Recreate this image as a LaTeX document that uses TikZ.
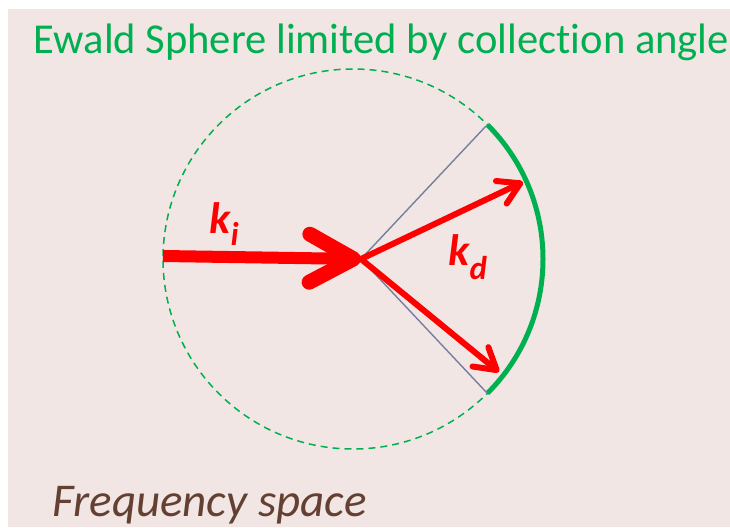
\documentclass[tikz,border=0pt]{standalone}
\usepackage{fontspec}
\setmainfont{Carlito}[Ligatures=NoCommon]
\usepackage{xcolor}
\usepackage{tikz}
\usetikzlibrary{arrows.meta}

\definecolor{bgpink}{RGB}{241,230,228}
\definecolor{ewgreen}{RGB}{0,176,80}
\definecolor{wavered}{RGB}{255,0,0}
\definecolor{conegray}{RGB}{120,126,160}
\definecolor{capbrown}{RGB}{99,64,50}

\tikzset{
  kvec/.style={draw=wavered,line width=6pt,-{Straight Barb[length=21pt,width=25pt,round]}},
  klabel/.style={text=wavered,inner sep=0pt,anchor=base west,font=\fontsize{44}{44}\selectfont\bfseries\itshape},
  caption/.style={inner sep=0pt,anchor=base west}
}
\newcommand{\ksub}[2]{\raisebox{-#2pt}{\fontsize{33}{33}\selectfont #1}}

\begin{document}
\begin{tikzpicture}[x=1pt,y=-1pt,line width=1pt]
    \useasboundingbox (0,0) rectangle (730,527);
    \fill[bgpink] (8,9) rectangle (730,527);
    % sphere and cone
    \coordinate (O) at (353,259);
    \coordinate (V) at (361,259);
    \coordinate (L) at (163,256);
    \coordinate (A) at (486,126);
    \coordinate (B) at (487,393);
    \coordinate (P) at (523,182);
    \coordinate (Q) at (499,372);
    \draw[ewgreen,line width=1.5pt,dash pattern=on 7pt off 5pt] (O) circle (190);
    \draw[ewgreen,line width=5pt] (O) ++(-45:190) arc (-45:45:190);
    \draw[conegray,line width=1.4pt] (A) -- (V) -- (B);
    % wave vectors
    \draw[wavered,line width=12pt,-{Straight Barb[length=44pt,width=48pt,line width=15pt,round]}] (L) -- (V);
    \draw[kvec] (V) -- (P);
    \draw[kvec] (V) -- (Q);
    \node[klabel] (ki) at (209,233) {k\ksub{i}{12}};
    \node[klabel] (kd) at (448,265) {k\ksub{d}{14}};
    % captions
    \node[caption,text=ewgreen,font=\fontsize{42.6}{42.6}\selectfont] (title) at (33,53) {Ewald Sphere limited by collection angle};
    \node[caption,text=capbrown,font=\fontsize{47}{47}\selectfont\itshape] (space) at (52,516) {Frequency space};
\end{tikzpicture}
\end{document}
